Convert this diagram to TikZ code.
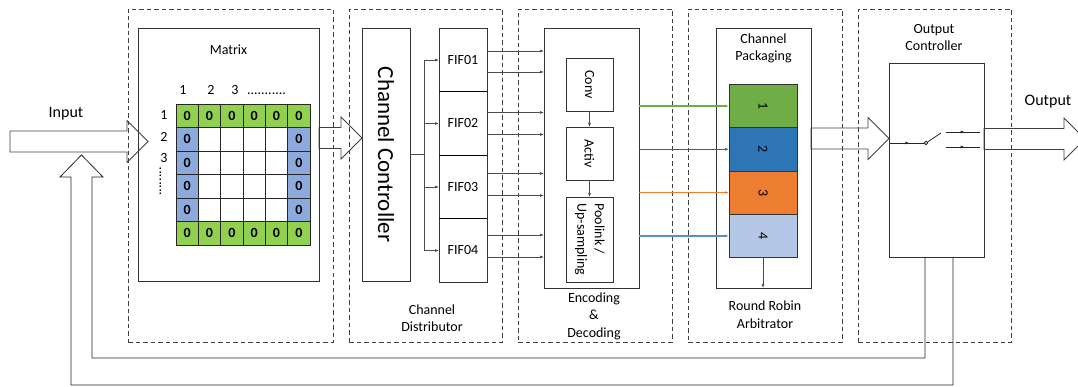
\documentclass[tikz,border=0pt]{standalone}
\usepackage{fontspec}
\setmainfont{Carlito}
\usetikzlibrary{positioning,calc,arrows.meta,decorations.markings}

\definecolor{padgreen}{HTML}{92D050}
\definecolor{padblue}{HTML}{8EA9DB}
\definecolor{chgreen}{HTML}{70AD47}
\definecolor{chblue}{HTML}{2E75B6}
\definecolor{chorange}{HTML}{ED7D31}
\definecolor{chlight}{HTML}{B4C7E7}
\definecolor{lnblue}{RGB}{40,90,200}
\definecolor{lnlight}{HTML}{5B8FC9}

% wide hollow arrow, horizontal, from #1 to the x of #2
\newcommand{\hollowarrow}[2]{%
  \draw[hollow] let \p1=(#1), \p2=(#2) in
    (\x1,\y1+10.5pt) -- (\x2-21pt,\y1+10.5pt) -- (\x2-21pt,\y1+21pt)
    -- (\x2,\y1) -- (\x2-21pt,\y1-21pt) -- (\x2-21pt,\y1-10.5pt)
    -- (\x1,\y1-10.5pt) -- cycle;}

\begin{document}
\begin{tikzpicture}[
    x=1pt, y=-1pt,
    font=\fontsize{14}{17.5}\selectfont,
    >={Latex[length=4pt,width=3pt]},
    block/.style 2 args={
        rectangle, draw=black!80, line width=0.8pt,
        inner sep=0pt, outer sep=0pt,
        minimum width=#1, minimum height=#2
    },
    group/.style 2 args={
        rectangle, draw=black!75, dash pattern=on 4.5pt off 3pt,
        line width=0.8pt, minimum width=#1, minimum height=#2
    },
    cell/.style={
        rectangle, draw=black!85, line width=0.7pt,
        minimum width=22.33pt, minimum height=23.5pt, inner sep=0pt,
        font=\fontsize{14}{14}\selectfont\bfseries
    },
    flow/.style={->, draw=black!70, line width=0.6pt},
    chline/.style={->, line width=1.5pt},
    hollow/.style={draw=black!75, line width=0.8pt},
    pipe/.style={draw=black!85, line width=0.8pt},
    midarrow/.style={postaction={decorate}, decoration={markings,
        mark=at position 0.55 with {\arrow{Latex[length=4pt,width=3pt]}}}},
]
  \useasboundingbox (0,0) rectangle (1078,387);

  %––– Stages (dashed) –––––––––––––––––––––––––––––––––––––
  \node (grpmat)  [group={205pt}{333pt}] at (230.5,175.5) {};
  \node (grpdist) [group={153pt}{333pt}] at (425.5,175.5) {};
  \node (grpenc)  [group={154pt}{333pt}] at (595,175.5) {};
  \node (grprr)   [group={154pt}{333pt}] at (765,175.5) {};
  \node (grpout)  [group={153pt}{333pt}] at (934.5,175.5) {};

  %––– Matrix with zero padding –––––––––––––––––––––––––––––
  \node (matrixbox) [block={181pt}{253pt}] at (228.5,154.5) {};
  \node at ($(matrixbox.north)+(0,22)$) {Matrix};

  \foreach \r in {0,...,5}
    \foreach \c in {0,...,5} {
      \pgfmathtruncatemacro{\edge}{(\r==0 || \r==5) ? 1 : ((\c==0 || \c==5) ? 2 : 0)}
      \ifcase\edge
        \node (c\r\c) [cell] at ({176+22.33*(\c+0.5)},{104+23.5*(\r+0.5)}) {};
      \or
        \node (c\r\c) [cell, fill=padgreen] at ({176+22.33*(\c+0.5)},{104+23.5*(\r+0.5)}) {0};
      \or
        \node (c\r\c) [cell, fill=padblue] at ({176+22.33*(\c+0.5)},{104+23.5*(\r+0.5)}) {0};
      \fi
    }

  % indices
  \foreach \c/\x in {1/183,2/211,3/235}
    \node [anchor=base] at (\x,95) {\c};
  \node [anchor=base] at (266.5,95) {...........};
  \foreach \r/\y in {1/120,2/141.5,3/163}
    \node [anchor=base] at (164,\y) {\r};
  \node [rotate=90] at (160.5,181.5) {........};

  %––– Channel distributor ––––––––––––––––––––––––––––––––––
  \node (ctrl) [block={48pt}{253pt}] at (386,154.5)
      {\rotatebox{-90}{\fontsize{23}{23}\selectfont Channel Controller}};

  \node (fifo1) [block={48pt}{63.5pt}] at (463,60) {FIF01};
  \node (fifo2) [block={48pt}{63.5pt}, below=0pt of fifo1] {FIF02};
  \node (fifo3) [block={48pt}{63.5pt}, below=0pt of fifo2] {FIF03};
  \node (fifo4) [block={48pt}{63.5pt}, below=0pt of fifo3] {FIF04};
  \foreach \i in {1,2,3}
    \draw[line width=1.4pt] (fifo\i.south west) -- (fifo\i.south east);

  \coordinate (split) at ($(ctrl.east)+(14,0)$);
  \draw[flow, -] (ctrl.east) -- (split);
  \foreach \i in {1,...,4}
    \draw[flow] (split) |- (fifo\i.west);

  \node [align=center] at (432,318) {Channel\\Distributor};

  %––– Encoding & decoding ––––––––––––––––––––––––––––––––––
  \node (enc) [block={95pt}{260pt}] at (591.5,158) {};
  \node (conv)  [block={47pt}{53pt}] at (589.5,84.5) {\rotatebox{-90}{Conv}};
  \node (activ) [block={47pt}{53pt}, below=16pt of conv] {\rotatebox{-90}{Activ}};
  \node (pool)  [block={47pt}{85pt}, below=17pt of activ]
      {\rotatebox{-90}{\begin{tabular}{@{}l@{}}Poolink /\\Up-sampling\end{tabular}}};
  \draw[flow] (conv) -- (activ);
  \draw[flow] (activ) -- (pool);

  \foreach \i/\a/\b in {1/-9/12, 2/-11/11, 3/-13.5/8.5, 4/-15.5/6.5} {
    \draw[flow] ($(fifo\i.east)+(0,\a)$) -- ($(fifo\i.east -| enc.west)+(0,\a)$);
    \draw[flow] ($(fifo\i.east)+(0,\b)$) -- ($(fifo\i.east -| enc.west)+(0,\b)$);
  }

  \node [align=center] at (594,316) {Encoding\\\&\\Decoding};

  %––– Round robin arbitrator –––––––––––––––––––––––––––––––
  \node (pack) [block={95pt}{260pt}] at (763.5,158) {};
  \node [align=center] at ($(pack.north)+(0,20.5)$) {Channel\\Packaging};

  \node (ch1) [block={68pt}{43.3pt}, fill=chgreen] at (763,106) {\rotatebox{-90}{1}};
  \node (ch2) [block={68pt}{43.3pt}, fill=chblue, below=0pt of ch1] {\rotatebox{-90}{2}};
  \node (ch3) [block={68pt}{43.3pt}, fill=chorange, below=0pt of ch2] {\rotatebox{-90}{3}};
  \node (ch4) [block={68pt}{43.3pt}, fill=chlight, below=0pt of ch3] {\rotatebox{-90}{4}};
  \draw[flow] (ch4) -- (ch4 |- pack.south);

  \draw[chline, color=chgreen] (enc.east |- ch1.west) -- (ch1.west);
  \draw[chline, color=lnblue] (enc.east |- ch2.west) -- (ch2.west);
  \draw[chline, color=chorange] (enc.east |- ch3.west) -- (ch3.west);
  \draw[chline, color=lnlight] (enc.east |- ch4.west) -- (ch4.west);

  \node [align=center] at (765,314.5) {Round Robin\\Arbitrator};

  %––– Output controller ––––––––––––––––––––––––––––––––––––
  \node (outctrl) [block={95pt}{194pt}] at (936.5,160) {};
  \node [align=center] at ($(outctrl.north)+(-2.5,-25.5)$) {Output\\Controller};

  \coordinate (swin) at ($(outctrl.west)+(0,-17)$);
  \coordinate (pivot) at ($(swin)+(37,0)$);
  \draw[pipe, midarrow] (swin) -- (pivot);
  \draw[pipe] (pivot) -- ++(15,-10);
  \draw[pipe, fill=white] (pivot) circle (1.8pt);
  \draw[pipe, midarrow] ($(outctrl.east)+(-38,-28)$) -- ($(outctrl.east)+(-4,-28)$);
  \draw[pipe, midarrow] ($(outctrl.east)+(-38,-13)$) -- ($(outctrl.east)+(-4,-13)$);

  %––– Wide arrows ––––––––––––––––––––––––––––––––––––––––––
  \coordinate (inbegin) at (10,141.5);
  \coordinate (outend) at (1085,139);
  \hollowarrow{inbegin}{$(matrixbox.west)+(10,0)$}
  \hollowarrow{$(matrixbox.east)+(0,-16.5)$}{ctrl.west}
  \hollowarrow{$(pack.east)+(0,-19.5)$}{outctrl.west}
  \hollowarrow{$(outctrl.east)+(0,-21)$}{outend}

  \node [font=\fontsize{16}{16}\selectfont] at (66,114) {Input};
  \node [font=\fontsize{16}{16}\selectfont] at (1048,102) {Output};

  % feedback back to the input
  \coordinate (fbtip) at (81.5,155);
  \draw[pipe] ($(outctrl.south)+(16.5,0)$) -- ++(0,128)
      -| ($(fbtip)+(-10.5,22)$) -- ++(-11,0) -- (fbtip) -- ++(21.5,22)
      -- ++(-11,0) |- ($(outctrl.south)+(-11.5,101)$) -- ++(0,-101);
\end{tikzpicture}
\end{document}
